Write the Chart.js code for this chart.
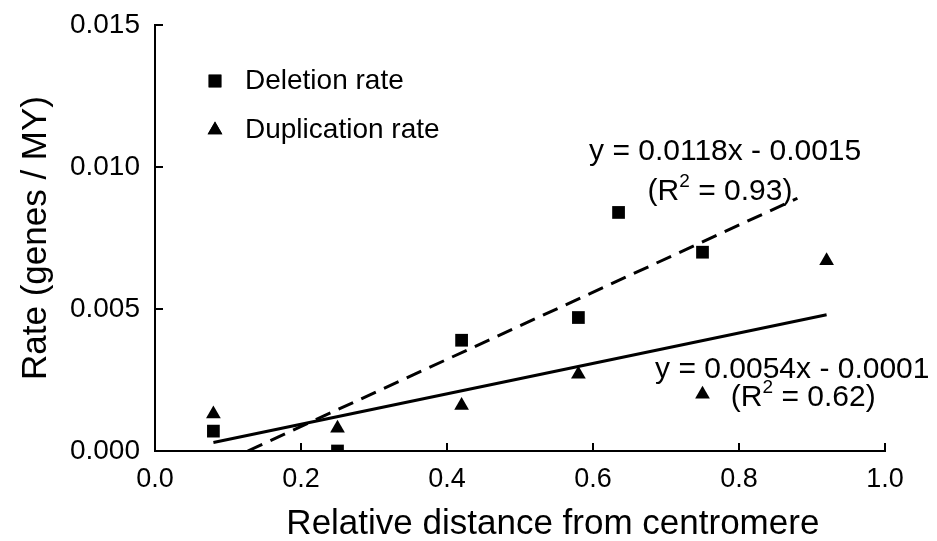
<!DOCTYPE html>
<html>
<head>
<meta charset="utf-8">
<script src="https://cdn.jsdelivr.net/npm/chart.js@4/dist/chart.umd.min.js"></script>
<style>
  html, body { margin: 0; padding: 0; background: #fff; }
  #wrap { width: 937px; height: 541px; }
</style>
</head>
<body>
<div id="wrap"><canvas id="chart" width="937" height="541"></canvas></div>
<script>
// Data
const deletionX = [0.08, 0.25, 0.42, 0.58, 0.635, 0.75];
const deletionY = [0.0007, 0.0000, 0.0039, 0.0047, 0.0084, 0.0070];
const duplicationX = [0.08, 0.25, 0.42, 0.58, 0.75, 0.92];
const duplicationY = [0.0013, 0.0008, 0.0016, 0.0027, 0.0020, 0.0067];

// Trend line end points as drawn
const deletionFitX = [0.127, 0.88];
const deletionFitY = [0.0000, 0.0089];
const duplicationFitX = [0.08, 0.92];
const duplicationFitY = [0.0003, 0.0048];

const xTicks = [0.0, 0.2, 0.4, 0.6, 0.8, 1.0];
const yTicks = [0.000, 0.005, 0.010, 0.015];

const seriesLabels = ['Deletion rate', 'Duplication rate'];
const xTitle = 'Relative distance from centromere';
const yTitle = 'Rate (genes / MY)';
const equations = [
    { line1: 'y = 0.0118x - 0.0015', r2: '0.93', x: 0.781, y: 0.01053, x2: 0.774, y2: 0.00912 },
    { line1: 'y = 0.0054x - 0.0001', r2: '0.62', x: 0.873, y: 0.00285, x2: 0.888, y2: 0.00187 }
];

const FONT = '"Liberation Sans", Arial, Helvetica, sans-serif';

function toPoints(xs, ys) {
    return xs.map((x, i) => ({ x: x, y: ys[i] }));
}

// inward tick marks
const innerTicks = {
    id: 'innerTicks',
    afterDraw(chart) {
        const ctx = chart.ctx;
        const xs = chart.scales.x, ys = chart.scales.y;
        const area = chart.chartArea;
        ctx.save();
        ctx.strokeStyle = '#000';
        ctx.lineWidth = 2;
        ctx.beginPath();
        xTicks.forEach(v => {
            const px = xs.getPixelForValue(v);
            ctx.moveTo(px, area.bottom);
            ctx.lineTo(px, area.bottom - 8);
        });
        yTicks.forEach(v => {
            const py = ys.getPixelForValue(v);
            ctx.moveTo(area.left, py);
            ctx.lineTo(area.left + 8, py);
        });
        ctx.stroke();
        ctx.restore();
    }
};

function drawR2(ctx, r2, cx, cy) {
    const big = '30px ' + FONT, small = '19px ' + FONT;
    ctx.font = big;
    const a = '(R', b = ' = ' + r2 + ')';
    const wa = ctx.measureText(a).width, wb = ctx.measureText(b).width;
    ctx.font = small;
    const ws = ctx.measureText('2').width;
    let x = cx - (wa + ws + wb) / 2;
    ctx.textAlign = 'left';
    ctx.textBaseline = 'middle';
    ctx.font = big;
    ctx.fillText(a, x, cy);
    x += wa;
    ctx.font = small;
    ctx.fillText('2', x, cy - 10);
    x += ws;
    ctx.font = big;
    ctx.fillText(b, x, cy);
}

const annotations = {
    id: 'annotations',
    afterDraw(chart) {
        const ctx = chart.ctx;
        const xs = chart.scales.x, ys = chart.scales.y;
        const area = chart.chartArea;
        ctx.save();
        ctx.fillStyle = '#000';
        equations.forEach(eq => {
            ctx.font = '30px ' + FONT;
            ctx.textAlign = 'center';
            ctx.textBaseline = 'middle';
            ctx.fillText(eq.line1, xs.getPixelForValue(eq.x), ys.getPixelForValue(eq.y));
            drawR2(ctx, eq.r2, xs.getPixelForValue(eq.x2), ys.getPixelForValue(eq.y2));
        });

        // x axis title (sits right of the plot centre in the original)
        ctx.font = '35px ' + FONT;
        ctx.textAlign = 'center';
        ctx.textBaseline = 'alphabetic';
        ctx.fillText(xTitle, xs.getPixelForValue(0.545), 534);

        // legend
        const lx = area.left + 60, ly = area.top + 56, gap = 49;
        [0, 1].forEach(i => {
            const ds = chart.data.datasets[i];
            const cy = ly + i * gap;
            Chart.helpers.drawPoint(ctx, {
                pointStyle: ds.pointStyle,
                radius: ds.pointRadius,
                borderWidth: 0
            }, lx, cy);
            ctx.fillStyle = '#000';
            ctx.fill();
            ctx.font = '28px ' + FONT;
            ctx.textAlign = 'left';
            ctx.textBaseline = 'middle';
            ctx.fillText(seriesLabels[i], lx + 30, cy);
        });
        ctx.restore();
    }
};

new Chart(document.getElementById('chart'), {
    type: 'scatter',
    data: {
        datasets: [
            {
                label: seriesLabels[0],
                data: toPoints(deletionX, deletionY),
                pointStyle: 'rect',
                pointRadius: 9,
                pointHoverRadius: 9,
                backgroundColor: '#000',
                borderWidth: 0
            },
            {
                label: seriesLabels[1],
                data: toPoints(duplicationX, duplicationY),
                pointStyle: 'triangle',
                pointRadius: 8.5,
                pointHoverRadius: 8.5,
                backgroundColor: '#000',
                borderWidth: 0
            },
            {
                label: 'Deletion fit',
                data: toPoints(deletionFitX, deletionFitY),
                showLine: true,
                borderColor: '#000',
                borderWidth: 3,
                borderDash: [16, 9],
                pointRadius: 0,
                fill: false
            },
            {
                label: 'Duplication fit',
                data: toPoints(duplicationFitX, duplicationFitY),
                showLine: true,
                borderColor: '#000',
                borderWidth: 3,
                pointRadius: 0,
                fill: false
            }
        ]
    },
    options: {
        responsive: false,
        animation: false,
        layout: { padding: { top: 25, right: 52, left: 0, bottom: 0 } },
        plugins: {
            legend: { display: false },
            tooltip: { enabled: false }
        },
        scales: {
            x: {
                type: 'linear',
                min: 0,
                max: 1,
                afterFit(scale) { scale.height = 90; },
                afterBuildTicks(scale) { scale.ticks = xTicks.map(v => ({ value: v })); },
                border: { display: true, color: '#000', width: 2 },
                grid: { display: false, drawTicks: false },
                ticks: {
                    color: '#000',
                    padding: 12,
                    font: { family: FONT, size: 27 },
                    callback: v => v.toFixed(1)
                }
            },
            y: {
                type: 'linear',
                min: 0,
                max: 0.015,
                afterFit(scale) {
                    scale.width = 155;
                    scale.paddingTop = 0;
                    scale.paddingBottom = 0;
                },
                afterBuildTicks(scale) { scale.ticks = yTicks.map(v => ({ value: v })); },
                border: { display: true, color: '#000', width: 2 },
                grid: { display: false, drawTicks: false },
                ticks: {
                    color: '#000',
                    padding: 15,
                    font: { family: FONT, size: 28 },
                    callback: v => v.toFixed(3)
                },
                title: {
                    display: true,
                    text: yTitle,
                    color: '#000',
                    font: { family: FONT, size: 35 },
                    padding: { top: 15, bottom: 0 }
                }
            }
        }
    },
    plugins: [innerTicks, annotations]
});
</script>
</body>
</html>
